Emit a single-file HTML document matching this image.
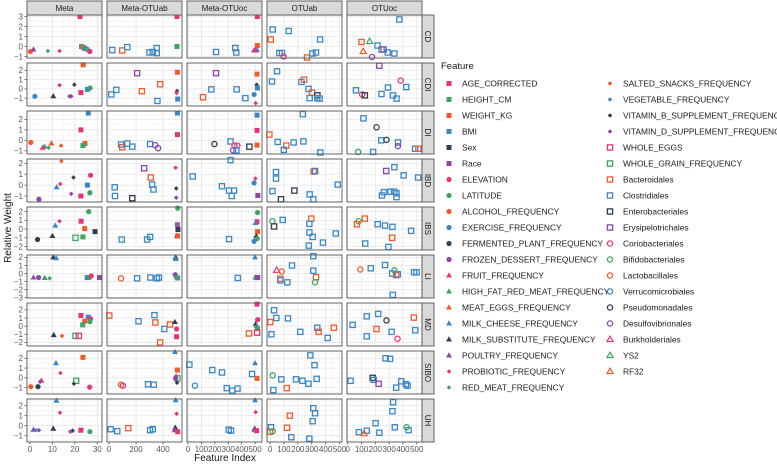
<!DOCTYPE html>
<html><head><meta charset="utf-8"><style>
body{margin:0;background:#fff;}
svg{display:block;font-family:"Liberation Sans",sans-serif;}
</style></head><body>
<svg id="chart" width="777" height="464" viewBox="0 0 777 464" xmlns="http://www.w3.org/2000/svg"></svg>
<script>
const colNames = ["Meta","Meta-OTUab","Meta-OTUoc","OTUab","OTUoc"];
const rowNames = ["CD","CDI","DI","IBD","IBS","LI","MD","SIBO","UH"];
const features = ["AGE_CORRECTED","HEIGHT_CM","WEIGHT_KG","BMI","Sex","Race","ELEVATION","LATITUDE","ALCOHOL_FREQUENCY","EXERCISE_FREQUENCY","FERMENTED_PLANT_FREQUENCY","FROZEN_DESSERT_FREQUENCY","FRUIT_FREQUENCY","HIGH_FAT_RED_MEAT_FREQUENCY","MEAT_EGGS_FREQUENCY","MILK_CHEESE_FREQUENCY","MILK_SUBSTITUTE_FREQUENCY","POULTRY_FREQUENCY","PROBIOTIC_FREQUENCY","RED_MEAT_FREQUENCY","SALTED_SNACKS_FREQUENCY","VEGETABLE_FREQUENCY","VITAMIN_B_SUPPLEMENT_FREQUENCY","VITAMIN_D_SUPPLEMENT_FREQUENCY","WHOLE_EGGS","WHOLE_GRAIN_FREQUENCY","Bacteroidales","Clostridiales","Enterobacteriales","Erysipelotrichales","Coriobacteriales","Bifidobacteriales","Lactobacillales","Verrucomicrobiales","Pseudomonadales","Desulfovibrionales","Burkholderiales","YS2","RF32"];
const palette = ["#e8337a","#3aa65f","#f15a29","#3a87c8","#2c3e50","#8e44ad"];
const xDomains = [[-1.3,32.1],[-15,540],[-7.5,552],[-22,518],[-5,538]];
const yDomains = [[-1.15,3.15],[-1.85,2.8],[-1.3,2.8],[-1.55,2.4],[-2.4,2.53],[-3.04,2.3],[-2.44,2.84],[-1.65,2.75],[-1.63,2.67]];
const xTicks = [[0,10,20,30],[0,200,400],[0,100,200,300,400,500],[0,100,200,300,400,500],[0,100,200,300,400,500]];
// points: [col, featureIndex, x, y]
const rowCD = [[0,0,22.3,3],[0,1,23,0],[0,2,23.8,-0.1],[0,3,24.5,-0.2],[0,7,25.6,-0.3],[0,6,26.7,-0.5],[0,8,0.2,-0.5],[0,17,1.6,-0.3],[0,19,8,-0.45],[0,18,13.2,-0.45],
[1,27,24,-0.36],[1,26,98,-0.4],[1,27,135,-0.06],[1,27,299,-0.6],[1,27,324,-0.55],[1,27,353,-0.15],[1,27,353,-0.66],[1,0,503,3],[1,1,503,0],
[2,27,209,-0.55],[2,27,352,-0.15],[2,27,360,-0.6],[2,0,517,3],[2,2,517,0.1],[2,17,493,-0.4],[2,15,515,-0.35],[2,12,503,-0.4],
[3,27,19,1.7],[3,27,134,1.55],[3,26,5,0.7],[3,27,360,0.7],[3,27,67,-0.65],[3,27,86,-0.65],[3,30,98,-1.0],[3,26,266,-1.1],[3,27,305,-0.7],[3,27,331,-0.6],
[4,27,374,2.7],[4,26,100,0.45],[4,37,159,0.5],[4,38,112,-0.5],[4,27,216,0.1],[4,27,245,-0.3],[4,29,260,-0.3],[4,27,290,-0.6],[4,27,338,-0.7],[4,35,176,-1.05]];
const rowCDI = [[0,2,23.7,2.6],[0,18,13.2,0.4],[0,22,19.8,0.45],[0,9,2.2,-0.8],[0,16,10.4,-0.8],[0,23,17.6,-0.8],[0,23,18.4,-0.8],[0,0,22.7,-0.4],[0,3,25.6,-0.05],[0,7,26.8,0.1],
[1,29,208,1.7],[1,26,378,0.5],[1,26,243,-0.25],[1,27,54,-0.1],[1,27,17,-0.6],[1,27,358,-1.3],[1,2,506,1.8],[1,22,503,-0.23],[1,18,500,-0.45],[1,3,508,-1.1],
[2,29,209,1.7],[2,26,112,-0.9],[2,27,174,-0.05],[2,27,363,-0.05],[2,27,428,-1.0],[2,2,515,1.6],[2,22,512,0.45],[2,3,518,0.1],[2,9,493,-0.6],[2,18,505,-1.55],
[3,27,50,1.9],[3,27,14,0.8],[3,26,245,1.0],[3,27,226,0.75],[3,27,277,0],[3,26,302,-0.4],[3,28,341,-0.7],[3,27,285,-1.0],[3,27,340,-1.0],[3,27,357,-1.05],
[4,29,229,2.5],[4,30,384,0.9],[4,27,424,0.2],[4,27,292,0.15],[4,27,60,-0.15],[4,30,105,-0.6],[4,28,124,-0.7],[4,27,245,-0.55],[4,27,328,-0.7],[4,27,354,-1.05]];
const rowDI = [[0,3,26,2.6],[0,0,22.7,1.0],[0,2,24.5,-0.3],[0,1,23.6,-0.5],[0,8,0.4,-0.2],[0,14,9.6,-0.3],[0,20,13.9,-0.5],[0,13,6.6,-0.6],[0,12,5.7,-0.7],[0,19,8.3,-0.7],
[1,27,89,-0.4],[1,26,98,-0.65],[1,27,135,-0.3],[1,27,172,-0.6],[1,27,304,-0.35],[1,35,341,-0.45],[1,35,363,-0.75],[1,3,506,2.6],[1,0,506,0.55],
[2,34,197,-0.35],[2,27,317,-0.1],[2,30,347,-0.5],[2,30,368,-0.5],[2,35,336,-0.95],[2,27,361,-0.95],[2,28,458,-0.6],[2,3,515,2.4],[2,0,515,0.95],[2,2,515,-0.45],
[3,26,-5,0.55],[3,27,55,-0.15],[3,26,117,-0.5],[3,27,99,-0.9],[3,27,170,-0.2],[3,27,240,-0.1],[3,27,236,2.5],[3,27,362,-1.15],
[4,27,114,2.1],[4,34,209,1.25],[4,27,243,0],[4,34,281,0.05],[4,27,364,-0.2],[4,35,364,-0.55],[4,31,76,-1.1],[4,27,184,-1.1],[4,27,488,-0.8],[4,26,512,-0.8]];
const rowIBD = [[0,20,14,2.2],[0,6,27,0.9],[0,22,19.4,0.7],[0,18,13.5,0.1],[0,15,11.9,-0.2],[0,3,25.6,0],[0,7,26.7,-0.7],[0,23,18.4,-0.8],[0,0,22.7,-1],[0,11,4,-1.3],
[1,29,260,1.55],[1,26,309,0.7],[1,27,319,0.05],[1,27,329,-0.4],[1,27,42,-0.2],[1,27,44,-1.0],[1,28,172,-1.2],[1,18,493,1.6],[1,22,497,-0.3],[1,23,497,-1.15],
[2,27,35,0.8],[2,27,317,2.3],[2,27,253,-0.1],[2,27,306,-0.5],[2,27,343,-0.5],[2,27,326,-1.0],[2,18,503,0.6],[2,9,493,0.2],[2,5,521,-0.95],
[3,27,43,1.2],[3,27,43,0.6],[3,27,17,-0.55],[3,28,175,-0.5],[3,28,79,-1.3],[3,26,314,1.25],[3,27,324,1.3],[3,27,285,-0.85],[3,27,311,-1.3],[3,27,487,0.05],
[4,29,279,1.3],[4,27,338,1.65],[4,27,405,0.9],[4,27,510,0.7],[4,27,248,-0.95],[4,27,262,-0.65],[4,27,310,-0.6],[4,27,336,-0.6],[4,27,353,-0.75],[4,27,353,-1.1]];
const rowIBS = [[0,7,26.2,2.0],[0,0,22.8,0.9],[0,2,24.4,0.05],[0,4,29,-0.3],[0,1,23.6,-0.9],[0,25,20.3,-1.0],[0,15,11.3,0.4],[0,18,13.2,0.9],[0,16,10,-0.8],[0,10,3.4,-1.2],
[1,27,94,-1.2],[1,27,282,-1.2],[1,27,304,-0.9],[1,7,508,2.4],[1,0,506,0.5],[1,21,501,0.55],[1,4,510,-0.05],[1,16,503,-0.75],[1,2,508,-0.8],
[2,27,306,-1.15],[2,7,519,1.9],[2,0,515,0.85],[2,15,503,0.7],[2,2,519,-0.3],[2,16,509,-0.8],[2,7,515,-1.1],[2,9,493,-1.4],
[3,31,17,0.9],[3,28,29,0.3],[3,27,91,1.05],[3,26,297,1.2],[3,27,283,0.6],[3,27,283,-0.4],[3,27,307,-0.9],[3,27,473,-0.5],[3,27,381,-1.55],[3,27,279,-1.9],
[4,31,79,0.9],[4,26,67,0.55],[4,26,124,1.2],[4,27,217,0.55],[4,27,270,0.4],[4,27,324,0.25],[4,27,459,-0.2],[4,26,322,-1.0],[4,27,127,-1.65],[4,27,295,-2.05]];
const rowLI = [[0,16,10.4,2.0],[0,15,11.7,1.9],[0,17,1.6,-0.5],[0,11,3.9,-0.5],[0,13,6.6,-0.55],[0,19,8.8,-0.6],[0,3,25.5,-0.5],[0,7,26.5,-0.5],[0,6,27.3,-0.3],[0,5,31,-0.5],
[1,32,89,-0.6],[1,27,208,-0.6],[1,27,306,-0.5],[1,27,354,-0.6],[1,27,369,-0.5],[1,16,493,2],[1,15,493,1.8],[1,11,490,-0.15],[1,3,508,-0.55],[1,7,500,-0.5],
[2,27,371,-0.55],[2,15,500,2],[2,15,502,-0.5],[2,1,512,-0.5],[2,5,520,-0.5],
[3,36,48,0.4],[3,32,84,0.25],[3,27,158,1.0],[3,27,311,2.15],[3,27,311,0.35],[3,26,74,-0.65],[3,27,74,-0.85],[3,27,124,-1.1],[3,26,331,-0.45],[3,31,324,-1.1],
[4,32,91,0.5],[4,27,167,0.65],[4,27,270,1.05],[4,31,338,0.4],[4,27,322,0],[4,26,351,-0.2],[4,27,363,-0.1],[4,27,481,0.15],[4,27,499,0.15],[4,27,327,-2.65]];
const rowMD = [[0,0,22.7,1.3],[0,3,26,1.1],[0,6,27,0.9],[0,2,24.4,0.6],[0,7,26.7,0.55],[0,1,23.5,0.15],[0,16,10.6,-1.1],[0,20,14.3,-1.2],[0,25,20.3,-1.2],[0,24,21.8,-1.2],
[1,26,2,1.3],[1,27,218,0.6],[1,27,336,1.35],[1,26,343,0.45],[1,27,409,-0.35],[1,26,451,0.2],[1,26,378,-2],[1,16,488,0.5],[1,6,500,-0.35],[1,0,500,-1.3],
[2,0,515,2.7],[2,6,520,0.8],[2,16,505,0.25],[2,15,512,0],[2,1,518,-0.3],[2,24,515,-0.8],[2,26,455,-0.9],
[3,27,29,1.95],[3,27,45,1.0],[3,27,129,0.95],[3,26,2,0.5],[3,27,10,-1.0],[3,27,218,-0.7],[3,27,340,-0.2],[3,26,350,-0.7],[3,26,459,-0.2],[3,27,415,-1.45],
[4,27,36,0.15],[4,27,138,1.2],[4,27,221,1.5],[4,34,281,0.7],[4,26,479,1.05],[4,26,209,-0.35],[4,27,318,-0.7],[4,27,489,-0.5],[4,27,138,-1.25],[4,30,361,-1.55]];
const rowSIBO = [[0,2,23.6,2.1],[0,15,11.6,1.5],[0,18,13.6,0.5],[0,25,20.6,-0.3],[0,12,5.1,-0.3],[0,23,4.5,-0.4],[0,8,0.4,-0.9],[0,10,3.6,-0.9],[0,22,19.6,-0.6],[0,6,26.6,-0.95],
[1,32,89,-0.7],[1,30,103,-0.8],[1,27,289,-0.65],[1,27,331,-0.7],[1,15,488,2.65],[1,2,506,0.8],[1,18,497,0.2],[1,25,506,-0.05],[1,11,493,-0.05],[1,22,503,-0.5],
[2,27,10,1.35],[2,27,181,0.8],[2,27,253,0.55],[2,33,52,-0.8],[2,27,289,-1.05],[2,27,331,-1.3],[2,27,369,-1.1],[2,15,500,1.5],[2,27,478,0.4],[2,2,515,-0.05],
[3,27,290,2.3],[3,27,320,1.3],[3,31,19,0.25],[3,27,81,-0.15],[3,27,187,-0.15],[3,27,233,-0.3],[3,27,276,-0.6],[3,27,336,-0.1],[3,26,120,-1.05],[3,27,24,-1.25],
[4,27,274,2.0],[4,27,307,1.95],[4,27,21,-0.3],[4,28,181,0],[4,27,188,-0.2],[4,29,224,-0.6],[4,27,388,-0.35],[4,27,421,-0.65],[4,27,433,-0.8],[4,27,351,-1.0]];
const rowUH = [[0,15,11.8,2.5],[0,18,13.4,1.3],[0,16,10.4,-0.3],[0,17,1.6,-0.4],[0,21,2.7,-0.45],[0,23,4,-0.45],[0,22,19,-0.5],[0,23,18,-0.6],[0,0,22.7,-0.45],[0,7,26.7,-0.6],
[1,27,12,-0.35],[1,27,61,-0.55],[1,26,142,-0.25],[1,27,304,-0.45],[1,27,324,-0.35],[1,15,493,2.55],[1,18,500,1.2],[1,16,490,-0.2],[1,17,486,-0.45],[1,0,508,-0.6],
[2,15,500,2.55],[2,18,505,1.35],[2,27,304,-0.4],[2,27,321,-0.5],[2,16,497,-0.3],[2,17,495,-0.4],[2,0,512,-0.5],
[3,27,311,1.75],[3,27,324,1.25],[3,27,307,0.45],[3,26,142,1.0],[3,26,122,-0.2],[3,27,7,-0.15],[3,26,0,-0.6],[3,31,19,-0.55],[3,27,153,-1.15],[3,27,283,-1.3],
[4,27,329,2.35],[4,27,324,1.45],[4,27,202,0.25],[4,27,341,-0.15],[4,27,441,-0.45],[4,31,426,-0.15],[4,27,81,-0.65],[4,27,138,-0.5],[4,38,119,-0.8],[4,27,229,-0.7]];
const rowData = [rowCD,rowCDI,rowDI,rowIBD,rowIBS,rowLI,rowMD,rowSIBO,rowUH];

const NS="http://www.w3.org/2000/svg";
const svg=document.getElementById('chart');
function mk(tag,attrs,parent){const e=document.createElementNS(NS,tag);for(const k in attrs)e.setAttribute(k,attrs[k]);(parent||svg).appendChild(e);return e;}
const L0=27,PW=75,PS=80,T0=15,PH=43,RS=48;
function xs(c,v){const d=xDomains[c];return L0+c*PS+(v-d[0])/(d[1]-d[0])*PW;}
function ys(r,v){const d=yDomains[r];return T0+r*RS+PH-(v-d[0])/(d[1]-d[0])*PH;}

function marker(g,f,x,y){
  const col=palette[f%6],shp=Math.floor(f/6);let e;
  if(shp===0){e=mk('rect',{x:x-2.5,y:y-2.5,width:5,height:5,fill:col},g);}
  else if(shp===1){e=mk('circle',{cx:x,cy:y,r:2.6,fill:col},g);}
  else if(shp===2){e=mk('path',{d:`M${x},${y-3.2}L${x+3},${y+2}L${x-3},${y+2}Z`,fill:col},g);}
  else if(shp===3){e=mk('path',{d:`M${x},${y-2.3}L${x+2.3},${y}L${x},${y+2.3}L${x-2.3},${y}Z`,fill:col},g);}
  else if(shp===4){e=mk('rect',{x:x-2.6,y:y-2.6,width:5.2,height:5.2,fill:'none',stroke:col,'stroke-width':1.3},g);}
  else if(shp===5){e=mk('circle',{cx:x,cy:y,r:2.6,fill:'none',stroke:col,'stroke-width':1.3},g);}
  else {e=mk('path',{d:`M${x},${y-3.3}L${x+3.1},${y+2}L${x-3.1},${y+2}Z`,fill:'none',stroke:col,'stroke-width':1.2},g);}
  return e;
}

// panels
for(let r=0;r<9;r++){
  const yd=yDomains[r];const yt=[];for(let v=Math.ceil(yd[0]);v<=yd[1];v++)yt.push(v);
  for(let c=0;c<5;c++){
    const px=L0+c*PS,py=T0+r*RS;
    const g=mk('g',{});
    
    
    mk('rect',{x:px,y:py,width:PW,height:PH,fill:'#fff'},g);
    // minor grid
    const xt=xTicks[c];const step=xt[1]-xt[0];
    for(let v=xt[0]-step/2;v<=xDomains[c][1];v+=step){if(v<xDomains[c][0])continue;const X=xs(c,v);mk('line',{x1:X,x2:X,y1:py,y2:py+PH,stroke:'#f2f2f2','stroke-width':0.5},g);}
    for(let i=0;i<=yt.length;i++){const v=(yt[0]-0.5)+i;if(v<yd[0]||v>yd[1])continue;const Y=ys(r,v);mk('line',{x1:px,x2:px+PW,y1:Y,y2:Y,stroke:'#f2f2f2','stroke-width':0.5},g);}
    for(const v of xt){const X=xs(c,v);mk('line',{x1:X,x2:X,y1:py,y2:py+PH,stroke:'#e6e6e6','stroke-width':0.8},g);}
    for(const v of yt){const Y=ys(r,v);mk('line',{x1:px,x2:px+PW,y1:Y,y2:Y,stroke:'#e6e6e6','stroke-width':0.8},g);}
    for(const p of rowData[r]){ if(p[0]!==c)continue;
      const m=marker(g,p[1],xs(c,p[2]),ys(r,p[3]));
      
      
    }
    mk('rect',{x:px,y:py,width:PW,height:PH,fill:'none',stroke:'#555','stroke-width':0.9},g);
  }
  // y axis ticks
  for(const v of yt){const Y=ys(r,v);
    mk('line',{x1:24.5,x2:27,y1:Y,y2:Y,stroke:'#555','stroke-width':0.8});
    const t=mk('text',{x:23,y:Y+2.8,'text-anchor':'end','font-size':8,fill:'#555'});t.textContent=(v<0?'\u2212':'')+Math.abs(v);
    
    
  }
  // right strip
  const sy=T0+r*RS;
  const sg=mk('g',{});
  
  
  mk('rect',{x:422,y:sy,width:12,height:PH,fill:'#d9d9d9',stroke:'#555','stroke-width':0.9},sg);
  const st=mk('text',{x:0,y:0,'font-size':8,fill:'#1a1a1a','text-anchor':'middle',transform:`translate(425.2,${sy+PH/2}) rotate(90)`},sg);st.textContent=rowNames[r];
}
// top strips and x ticks
for(let c=0;c<5;c++){
  const px=L0+c*PS;
  const sg=mk('g',{});
  
  
  mk('rect',{x:px,y:1,width:PW,height:14,fill:'#d9d9d9',stroke:'#555','stroke-width':0.9},sg);
  const t=mk('text',{x:px+PW/2,y:11,'font-size':8,fill:'#1a1a1a','text-anchor':'middle'},sg);t.textContent=colNames[c];
  const bot=T0+8*RS+PH;
  for(const v of xTicks[c]){const X=xs(c,v);
    mk('line',{x1:X,x2:X,y1:bot,y2:bot+2.5,stroke:'#555','stroke-width':0.8});
    const tl=mk('text',{x:X,y:bot+10,'font-size':8,fill:'#555','text-anchor':'middle'});tl.textContent=v;
    
    
  }
}
const xt=mk('text',{x:225,y:461,'font-size':10,fill:'#1a1a1a','text-anchor':'middle'});xt.textContent='Feature Index';


const yt=mk('text',{x:0,y:0,'font-size':10,fill:'#1a1a1a','text-anchor':'middle',transform:'translate(11,228) rotate(-90)'});yt.textContent='Relative Weight';


// legend
const lg=mk('g',{});


const lt=mk('text',{x:441,y:69,'font-size':9.5,fill:'#1a1a1a'},lg);lt.textContent='Feature';
for(let i=0;i<features.length;i++){
  const col=i<20?0:1,row=i<20?i:i-20;
  const kx=col===0?449:610,tx=col===0?462:623,y=83.5+row*16;
  const eg=mk('g',{},lg);
  
  
  marker(eg,i,kx,y);
  const t=mk('text',{x:tx,y:y+3,'font-size':8.4,fill:'#1a1a1a'},eg);t.textContent=features[i];
}
</script>
</body></html>
